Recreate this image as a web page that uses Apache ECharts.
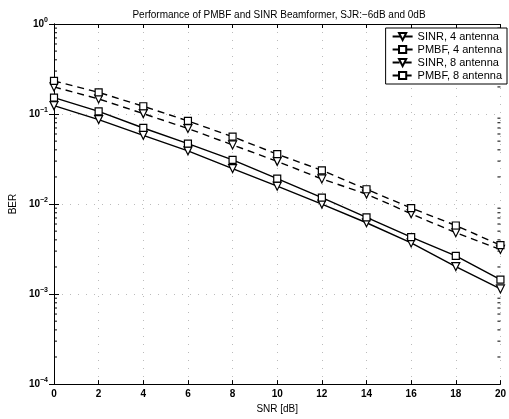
<!DOCTYPE html>
<html><head><meta charset="utf-8">
<script src="https://cdn.jsdelivr.net/npm/echarts@6/dist/echarts.min.js"></script>
<style>html,body{margin:0;padding:0;background:#fff}#c{width:509px;height:419px}</style>
</head><body><div id="c"></div>
<script>
const snr = [0,2,4,6,8,10,12,14,16,18,20];
const sinr4 = [0.124,0.0867,0.058,0.039,0.0248,0.0158,0.0100,0.0062,0.0037,0.00202,0.00114];
const pmbf4 = [0.152,0.107,0.070,0.0469,0.031,0.0192,0.0118,0.0071,0.0043,0.00265,0.00145];
const sinr8 = [0.200,0.147,0.101,0.069,0.0454,0.0298,0.019,0.0129,0.0078,0.0048,0.00313];
const pmbf8 = [0.233,0.174,0.122,0.0838,0.056,0.0358,0.0237,0.0146,0.00903,0.00578,0.00349];
const seriesNames = ['SINR, 4 antenna','PMBF, 4 antenna','SINR, 8 antenna','PMBF, 8 antenna'];
const titleText = 'Performance of PMBF and SINR Beamformer, SJR:\u22126dB and 0dB';

const FONT = '"Liberation Sans", Arial, sans-serif';
const minorVals = [];
for (let e = -4; e < 0; e++) for (let k = 2; k <= 9; k++) minorVals.push(k * Math.pow(10, e));

function pairs(ys){ return snr.map((x,i)=>[x, ys[i]]); }
function mk(name, ys, shape, dashed){
  return {
    name, type:'line', data: pairs(ys),
    symbol: shape === 'tri' ? 'triangle' : 'rect',
    symbolRotate: shape === 'tri' ? 180 : 0,
    symbolSize: shape === 'tri' ? 8 : 7,
    showSymbol: true,
    lineStyle:{color:'#000', width:1.4, type: dashed ? [7,5] : 'solid'},
    itemStyle:{color:'#fff', borderColor:'#000', borderWidth:1.2},
    emphasis:{disabled:true}, animation:false, z:3
  };
}
const chart = echarts.init(document.getElementById('c'), null, {renderer:'canvas'});
chart.setOption({
  animation:false,
  backgroundColor:'#fff',
  textStyle:{fontFamily:FONT, color:'#000'},
  title:{text:titleText, left:274, textAlign:'center', top:5,
    textStyle:{fontFamily:FONT, fontSize:10, fontWeight:'normal', color:'#000'}},
  grid:{left:43, right:3, top:24, bottom:30},
  legend:{
    orient:'vertical', right:2, top:28, data:seriesNames,
    backgroundColor:'#fff', borderColor:'#000', borderWidth:1,
    padding:[3,5,3,6], itemGap:2, itemWidth:20, itemHeight:9,
    textStyle:{fontFamily:FONT, fontSize:11, color:'#000'}
  },
  xAxis:[{
    type:'value', min:0, max:20, interval:2,
    name:'SNR [dB]', nameLocation:'middle', nameGap:17,
    nameTextStyle:{fontFamily:FONT, fontSize:10, color:'#000'},
    axisLine:{lineStyle:{color:'#000', width:1}},
    axisTick:{inside:true, length:4, lineStyle:{color:'#000'}},
    axisLabel:{fontFamily:FONT, fontSize:10, color:'#000', margin:5, fontWeight:'bold'},
    splitLine:{show:true, lineStyle:{color:'#bbb', type:[1,7], width:1}}
  },{
    type:'value', min:0, max:20, interval:2, position:'top',
    axisLine:{lineStyle:{color:'#000'}},
    axisTick:{inside:true, length:4, lineStyle:{color:'#000'}},
    axisLabel:{show:false}, splitLine:{show:false}
  }],
  yAxis:[{
    type:'log', logBase:10, min:1e-4, max:1,
    name:'BER', nameLocation:'middle', nameGap:30, nameRotate:90,
    nameTextStyle:{fontFamily:FONT, fontSize:10, color:'#000'},
    axisLine:{lineStyle:{color:'#000'}},
    axisTick:{inside:true, length:5, lineStyle:{color:'#000'}},
    axisLabel:{
      margin:6,
      formatter:function(v){ const e = Math.round(Math.log10(v)); return '{b|10}{s|' + (e<0?'\u2212'+(-e):e) + '}'; },
      rich:{ b:{fontFamily:FONT, fontSize:10, color:'#000', fontWeight:'bold'},
             s:{fontFamily:FONT, fontSize:7, color:'#000', padding:[0,0,8,0], fontWeight:'bold'} }
    },
    splitLine:{show:true, lineStyle:{color:'#bbb', type:[1,7], width:1}}
  },{
    type:'log', logBase:10, min:1e-4, max:1, position:'right',
    axisLine:{lineStyle:{color:'#000'}},
    axisTick:{inside:true, length:5, lineStyle:{color:'#000'}},
    axisLabel:{show:false}, splitLine:{show:false}
  }],
  series:[
    mk(seriesNames[0], sinr4, 'tri', false),
    mk(seriesNames[1], pmbf4, 'sq', false),
    mk(seriesNames[2], sinr8, 'tri', true),
    mk(seriesNames[3], pmbf8, 'sq', true),
    {
      type:'custom', silent:true, clip:false, z:2,
      data: minorVals.map(v=>[0, v]),
      encode:{x:0, y:1},
      renderItem:function(params, api){
        const v = api.value(1);
        const pl = api.coord([0, v]);
        const pr = api.coord([20, v]);
        return {type:'group', children:[
          {type:'line', shape:{x1:pl[0], y1:pl[1], x2:pl[0]+3, y2:pl[1]}, style:{stroke:'#000', lineWidth:1}},
          {type:'line', shape:{x1:pr[0], y1:pr[1], x2:pr[0]-3, y2:pr[1]}, style:{stroke:'#000', lineWidth:1}}
        ]};
      }
    }
  ]
});
</script></body></html>
